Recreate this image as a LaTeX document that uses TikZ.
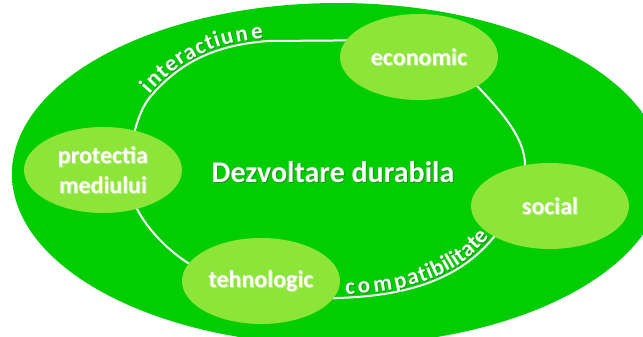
\documentclass[tikz,border=0pt]{standalone}
\usepackage{fontspec}
\setmainfont{Carlito}
\usetikzlibrary{shapes.geometric}
\definecolor{bigin}{RGB}{0,206,0}
\definecolor{bigout}{RGB}{22,148,22}
\definecolor{blobfill}{RGB}{142,229,58}
\pgfdeclareradialshading{bigshade}{\pgfpoint{0bp}{0bp}}{color(0bp)=(bigin); color(30bp)=(bigin); color(50bp)=(bigout)}
\tikzset{
  blob/.style={ellipse, fill=blobfill, minimum width=158pt, minimum height=86pt, inner sep=0pt},
  whitetxt/.style={text=white, font=\fontsize{24}{30}\selectfont\bfseries, align=center, inner sep=0pt},
  shadowtxt/.style={text=black!75, opacity=0.4, font=\fontsize{24}{30}\selectfont\bfseries, align=center, inner sep=0pt},
  ring/.style={draw=white, line width=2pt},
  ringletter/.style={sloped, anchor=base, inner sep=0pt, text=white, font=\fontsize{23}{23}\selectfont\bfseries},
  ringletsh/.style={ringletter, text=black!75, opacity=0.4}
}
\newcommand{\shadowlabel}[4][whitetxt]{%
  \node[shadowtxt,#1] at ([shift={(1,1)}]#2) {#4};
  \node[whitetxt,#1] (#3) at (#2) {#4};}
\begin{document}
\begin{tikzpicture}[x=1pt,y=-1pt]
\useasboundingbox (0,0) rectangle (643,337);
\begin{scope}
  \clip (0,0) rectangle (643,337);
  \shade[shading=bigshade] (338,174) ellipse [x radius=326, y radius=171];
\end{scope}
% ring
\draw[ring] (150,97) .. controls (180,62) and (215,45) .. (268,41)
  -- (400,40)
  .. controls (440,41) and (465,70) .. (478,87)
  .. controls (505,115) and (525,140) .. (525,165)
  .. controls (525,200) and (510,220) .. (493,238)
  .. controls (460,278) and (410,296) .. (337,298)
  .. controls (280,300) and (220,285) .. (188,263)
  .. controls (160,245) and (135,215) .. (130,190)
  .. controls (126,160) and (135,115) .. (150,97) -- cycle;
% ring texts (letters placed along the ring)
\begin{scope}[shift={(1,1)}]
\path (149,94.5) .. controls (179,59.5) and (214,42.5) .. (265,38.5)
  foreach \p/\c in {0.024/i,0.102/n,0.189/t,0.273/e,0.357/r,0.441/a,0.531/c,0.606/t,0.665/i,0.742/u,0.848/n,0.951/e}
  {node[ringletsh, pos=\p] {\c}};
\path (344,294.5) .. controls (409,292.5) and (459,275.5) .. (489,236.5)
  foreach \p/\c in {0.033/c,0.108/o,0.214/m,0.320/p,0.401/a,0.468/t,0.514/i,0.576/b,0.637/i,0.676/l,0.715/i,0.761/t,0.827/a,0.894/t,0.961/e}
  {node[ringletsh, pos=\p] {\c}};
\end{scope}
\path (149,94.5) .. controls (179,59.5) and (214,42.5) .. (265,38.5)
  foreach \p/\c in {0.024/i,0.102/n,0.189/t,0.273/e,0.357/r,0.441/a,0.531/c,0.606/t,0.665/i,0.742/u,0.848/n,0.951/e}
  {node[ringletter, pos=\p] {\c}};
\path (344,294.5) .. controls (409,292.5) and (459,275.5) .. (489,236.5)
  foreach \p/\c in {0.033/c,0.108/o,0.214/m,0.320/p,0.401/a,0.468/t,0.514/i,0.576/b,0.637/i,0.676/l,0.715/i,0.761/t,0.827/a,0.894/t,0.961/e}
  {node[ringletter, pos=\p] {\c}};
% blobs
\node[blob] (econ) at (419,57) {};
\node[blob] (soc) at (550,206) {};
\node[blob] (teh) at (261,281) {};
\node[blob] (prot) at (103,170) {};
\shadowlabel{econ}{econt}{economic}
\shadowlabel{soc}{soct}{social}
\shadowlabel{teh}{teht}{tehnologic}
\shadowlabel{prot}{prott}{protectia\\mediului}
\shadowlabel[font=\fontsize{30}{36}\selectfont\bfseries]{333,172}{center}{Dezvoltare durabila}
\end{tikzpicture}
\end{document}
